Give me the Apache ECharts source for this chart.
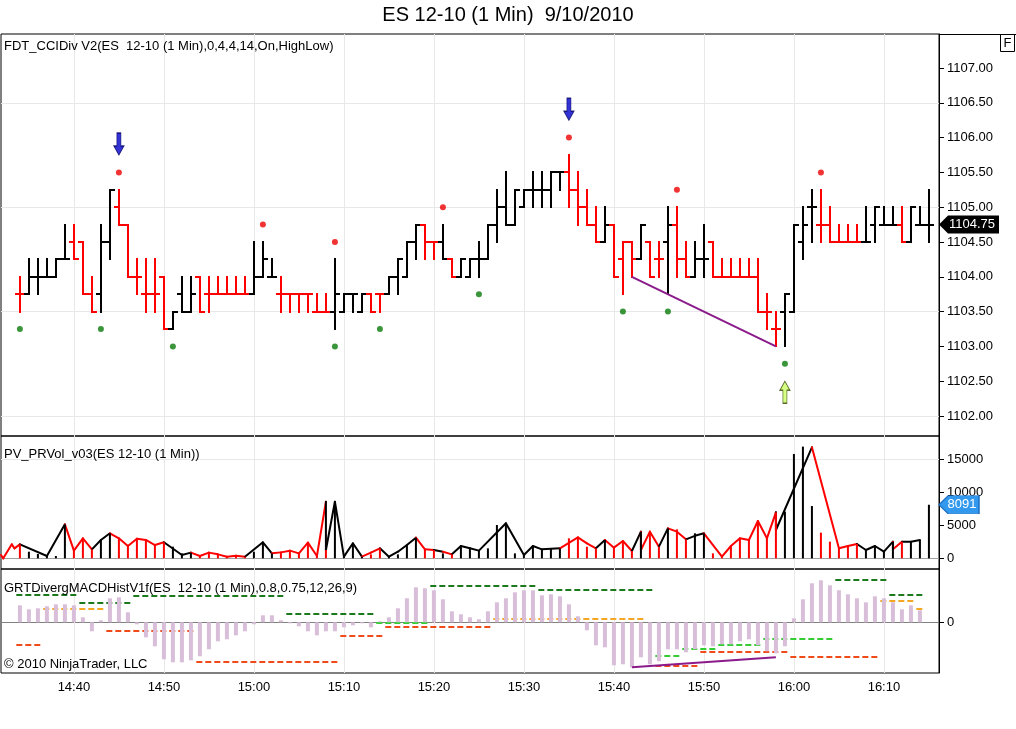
<!DOCTYPE html>
<html>
<head>
<meta charset="utf-8">
<script src="https://cdn.jsdelivr.net/npm/echarts@6/dist/echarts.min.js"></script>
<style>html,body{margin:0;padding:0;background:#fff}#c{width:1016px;height:729px}</style>
</head>
<body>
<div id="c"></div>
<script>
// ---------- DATA ----------
const chartTitle = 'ES 12-10 (1 Min)  9/10/2010';
const panelLabels = [
  'FDT_CCIDiv V2(ES  12-10 (1 Min),0,4,4,14,On,HighLow)',
  'PV_PRVol_v03(ES 12-10 (1 Min))',
  'GRTDivergMACDHistV1f(ES  12-10 (1 Min),0.8,0.75,12,26,9)'
];
const copyright = '\u00A9 2010 NinjaTrader, LLC';
const startMinute = 14 * 60 + 34;               // first bar = 14:34
const timeTickIndex = [6, 16, 26, 36, 46, 56, 66, 76, 86, 96]; // 14:40 ... 16:10
const priceTicks = [1102, 1102.5, 1103, 1103.5, 1104, 1104.5, 1105, 1105.5, 1106, 1106.5, 1107];
const volumeTicks = [0, 5000, 10000, 15000];
const macdTicks = [0];

const barOpen = [
1103.75,1103.75,1104.00,1104.00,1104.00,1104.25,1104.50,1104.50,1103.75,1103.75,
1104.50,1105.00,1104.75,1104.00,1103.75,1103.75,1104.00,1103.25,1103.75,1103.50,
1104.00,1103.75,1103.75,1103.75,1103.75,1103.75,1103.75,1104.00,1104.00,1103.75,
1103.75,1103.75,1103.75,1103.50,1103.50,1103.50,1103.50,1103.75,1103.50,1103.75,
1103.75,1103.75,1104.00,1104.00,1104.50,1104.75,1104.50,1104.50,1104.25,1104.00,
1104.00,1104.25,1104.25,1104.75,1105.00,1104.75,1105.00,1105.25,1105.25,1105.25,
1105.50,1105.50,1105.25,1105.00,1104.75,1104.50,1104.75,1104.25,1104.50,1104.25,
1104.50,1104.25,1104.50,1104.75,1104.25,1104.00,1104.25,1104.50,1104.00,1104.00,
1104.00,1104.00,1104.00,1103.50,1103.25,1103.50,1103.50,1104.50,1105.00,1104.75,
1104.75,1104.50,1104.50,1104.50,1104.50,1104.75,1104.75,1104.75,1104.75,1104.50,
1104.75,1104.75];
const barHigh = [
1104.00,1104.25,1104.25,1104.25,1104.25,1104.75,1104.75,1104.50,1104.00,1104.75,
1105.25,1105.25,1104.75,1104.25,1104.25,1104.25,1104.00,1103.50,1104.00,1104.00,
1104.00,1104.00,1104.00,1104.00,1104.00,1104.00,1104.50,1104.50,1104.25,1104.00,
1103.75,1103.75,1103.75,1103.75,1103.75,1104.25,1103.75,1103.75,1103.75,1103.75,
1103.75,1104.00,1104.25,1104.50,1104.75,1104.75,1104.50,1104.75,1104.25,1104.25,
1104.25,1104.50,1104.75,1105.25,1105.50,1105.25,1105.25,1105.50,1105.50,1105.50,
1105.50,1105.75,1105.50,1105.25,1105.00,1105.00,1104.75,1104.50,1104.50,1104.75,
1104.50,1104.50,1105.00,1105.00,1104.50,1104.50,1104.75,1104.50,1104.25,1104.25,
1104.25,1104.25,1104.25,1103.75,1103.50,1103.75,1104.75,1105.00,1105.25,1105.25,
1105.00,1104.75,1104.75,1104.75,1105.00,1105.00,1105.00,1105.00,1105.00,1105.00,
1105.00,1105.25];
const barLow = [
1103.50,1103.75,1103.75,1104.00,1104.00,1104.25,1104.25,1103.75,1103.50,1103.50,
1104.25,1104.75,1104.00,1103.75,1103.50,1103.50,1103.25,1103.25,1103.50,1103.50,
1103.50,1103.50,1103.75,1103.75,1103.75,1103.75,1103.75,1104.00,1104.00,1103.50,
1103.50,1103.50,1103.50,1103.50,1103.50,1103.25,1103.50,1103.50,1103.50,1103.50,
1103.50,1103.75,1103.75,1104.00,1104.25,1104.25,1104.25,1104.25,1104.00,1104.00,
1104.00,1104.00,1104.25,1104.50,1104.75,1104.75,1105.00,1105.00,1105.00,1105.00,
1105.25,1105.00,1104.75,1104.75,1104.50,1104.50,1104.00,1103.75,1104.00,1104.25,
1104.00,1104.00,1103.75,1104.00,1104.00,1104.00,1104.00,1104.00,1104.00,1104.00,
1104.00,1104.00,1103.50,1103.25,1103.00,1103.00,1103.50,1104.25,1104.50,1104.50,
1104.50,1104.50,1104.50,1104.50,1104.50,1104.50,1104.75,1104.75,1104.50,1104.50,
1104.75,1104.50];
const barClose = [
1103.75,1104.00,1104.00,1104.00,1104.25,1104.25,1104.25,1103.75,1103.50,1104.50,
1105.25,1104.75,1104.00,1104.00,1103.75,1103.75,1103.25,1103.50,1103.50,1103.75,
1103.50,1103.75,1103.75,1103.75,1103.75,1103.75,1104.00,1104.25,1104.00,1103.75,
1103.75,1103.75,1103.75,1103.50,1103.50,1103.75,1103.75,1103.75,1103.75,1103.50,
1103.75,1104.00,1104.25,1104.50,1104.75,1104.50,1104.50,1104.25,1104.00,1104.25,
1104.25,1104.25,1104.75,1105.00,1104.75,1105.25,1105.25,1105.25,1105.25,1105.50,
1105.50,1105.25,1105.00,1104.75,1104.50,1104.75,1104.00,1104.50,1104.25,1104.75,
1104.00,1104.25,1104.75,1104.25,1104.00,1104.25,1104.25,1104.00,1104.00,1104.00,
1104.00,1104.00,1103.50,1103.50,1103.25,1103.75,1104.75,1104.75,1105.00,1104.75,
1104.50,1104.50,1104.50,1104.50,1104.50,1105.00,1104.75,1104.75,1104.50,1105.00,
1104.75,1104.75];
// CCI state that paints the bars: 1 = rising (black), 0 = falling (red)
const barUp = [
0,1,1,1,1,1,0,0,0,1,
1,0,0,0,0,0,0,1,1,1,
0,0,0,0,0,0,1,1,1,0,
0,0,0,0,0,1,1,1,1,0,
0,1,1,1,1,0,0,1,0,1,
1,1,1,1,1,1,1,1,1,1,
1,0,0,0,0,1,0,0,0,1,
0,0,1,0,0,1,1,0,0,0,
0,0,0,0,0,1,1,1,1,0,
0,0,0,0,1,1,1,1,0,1,
1,1];
const swingHighDots = [[11,1105.50],[27,1104.75],[35,1104.50],[47,1105.00],[61,1106.00],[73,1105.25],[89,1105.50]];
const swingLowDots = [[0,1103.25],[9,1103.25],[17,1103.00],[35,1103.00],[40,1103.25],[51,1103.75],[67,1103.50],[72,1103.50],[85,1102.75]];
const sellArrows = [[11,1105.75],[61,1106.25]];
const buyArrows = [[85,1102.50]];
const priceDivLine = [[68,1104.00],[84,1103.00]];

const volume = [
2115,1000,650,300,350,5135,1160,3020,1360,2770,
3780,3020,1860,2970,2770,2010,2420,1760,750,860,
350,860,600,250,400,250,1000,2420,750,900,
1160,750,2370,350,1260,8560,250,2270,250,600,
1510,250,600,2010,3120,1360,1260,750,600,1860,
1510,1160,1510,5035,5290,750,500,1860,1360,1510,
1510,3020,3170,1760,1510,2770,1610,2620,1110,4030,
4030,1760,4530,4380,2870,3780,3780,750,250,1860,
3020,2770,5640,3020,6950,7050,15760,16870,7900,3880,
2520,1510,1860,2170,1260,1860,1000,2520,2520,2520,
2770,8091];
const volumeLine = [
[-2.1,500],[-1.85,0],[-0.9,2115],[-0.6,1510],[0,2115],[3,350],[5,5135],[6,1160],[7,3020],[8,1360],
[9,2770],[10,3780],[11,3020],[12,1860],[13,2970],[14,2770],[15,2010],[16,2420],[18,500],[19,860],
[20,350],[21,860],[22,600],[23,250],[24,400],[25,250],[27,2420],[28,750],[29,900],[30,1160],
[31,750],[32,2370],[33,350],[34,8560],[34,1260],[35,8560],[36,250],[37,2270],[38,250],[39,860],
[40,1510],[41,250],[42,1000],[43,2010],[44,3120],[45,1360],[46,1260],[47,1000],[48,600],[49,1860],
[50,1510],[51,1160],[54,5290],[56,500],[57,1860],[58,1360],[60,1510],[62,3170],[63,2270],[64,1510],
[65,2770],[66,1610],[67,2620],[68,1110],[69,4030],[69,1260],[70,4030],[71,1760],[72,4530],[73,4030],
[74,2870],[75,3400],[76,3780],[78,250],[79,1860],[80,3020],[81,2770],[82,5640],[83,3020],[84,6950],
[84,4280],[88,16770],[91,1510],[92,1860],[93,2170],[94,1260],[95,1860],[96,1000],[97,2520],[97,1360],
[98,2520],[99,2520],[100,2770]];

const macdHist = [
0.17,0.13,0.14,0.16,0.18,0.18,0.17,0.05,-0.09,0.02,
0.24,0.25,0.10,-0.02,-0.15,-0.24,-0.37,-0.40,-0.40,-0.38,
-0.34,-0.27,-0.19,-0.17,-0.13,-0.09,-0.02,0.07,0.07,0.02,
-0.01,-0.04,-0.09,-0.13,-0.09,-0.09,-0.05,-0.03,-0.01,-0.05,
0.01,0.05,0.14,0.24,0.35,0.34,0.32,0.23,0.11,0.08,
0.05,0.03,0.11,0.20,0.24,0.30,0.32,0.32,0.27,0.28,
0.26,0.18,0.06,-0.08,-0.23,-0.25,-0.43,-0.42,-0.45,-0.35,
-0.42,-0.39,-0.27,-0.27,-0.30,-0.27,-0.23,-0.24,-0.22,-0.22,
-0.19,-0.17,-0.23,-0.29,-0.31,-0.24,0.04,0.23,0.39,0.42,
0.37,0.32,0.28,0.24,0.20,0.26,0.24,0.20,0.13,0.17,
0.12,null];
// divergence levels: [first bar, last bar, level]
const levelsDarkGreen = [[0,6,0.27],[7,12,0.19],[13,29,0.26],[30,39,0.08],[46,57,0.36],[58,70,0.32],[91,96,0.42],[97,100,0.27]];
const levelsLightGreen = [[40,45,-0.01],[71,73,-0.34],[74,77,-0.27],[78,82,-0.23],[83,90,-0.17]];
const levelsOrange = [[3,9,0.13],[53,69,0.03],[96,99,0.21],[100,100,0.13]];
const levelsOrangeRed = [[0,2,-0.23],[10,19,-0.09],[20,35,-0.40],[36,40,-0.14],[41,52,-0.05],[71,75,-0.44],[76,85,-0.30],[86,95,-0.35]];
const macdDivLine = [[68,-0.45],[84,-0.35]];

// ---------- CHART ----------
const RED = '#ff0000', BLACK = '#000000';
const FONT = '"Liberation Sans", Arial, sans-serif';
const xMin = -2.1, xMax = 102.12;
const lastClose = barClose[barClose.length - 1];
const lastVolume = volume[volume.length - 1];

function fmtTime(v) {
  const m = startMinute + Math.round(v);
  return Math.floor(m / 60) + ':' + String(m % 60).padStart(2, '0');
}

const grids = [
  {left: 1, width: 938, top: 34, height: 402},
  {left: 1, width: 938, top: 436, height: 133},
  {left: 1, width: 938, top: 569, height: 104}
].map(g => Object.assign(g, {show: true, borderColor: '#000', borderWidth: 1, backgroundColor: 'transparent', containLabel: false, outerBoundsMode: 'none'}));

const xAxes = [0, 1, 2].map(g => ({
  type: 'value', gridIndex: g, min: xMin, max: xMax, position: 'bottom',
  axisLine: {show: false, onZero: false},
  axisTick: {show: false, customValues: timeTickIndex},
  axisLabel: {show: g === 2, customValues: timeTickIndex, formatter: fmtTime, color: '#000', fontSize: 13, fontFamily: FONT, margin: 8},
  splitLine: {show: true, lineStyle: {color: '#e8e8e8', width: 1}}
}));

function yAxis(g, min, max, ticks, fmt, splitColors) {
  return {
    type: 'value', gridIndex: g, position: 'right', min: min, max: max,
    axisLine: {show: true, onZero: false, lineStyle: {color: '#000', width: 1}},
    axisTick: {show: true, length: 5, customValues: ticks, lineStyle: {color: '#000'}},
    axisLabel: {customValues: ticks, formatter: fmt, color: '#000', fontSize: 13, fontFamily: FONT, margin: 8},
    splitLine: {show: true, lineStyle: {color: splitColors, width: 1}}
  };
}
const T = 'rgba(0,0,0,0)';
const yAxes = [
  yAxis(0, 1107 - (436 - 68) / 69.6, 1107 + (68 - 34) / 69.6, priceTicks, v => v.toFixed(2), ['#e8e8e8', T, T]),
  yAxis(1, -(569 - 558.33) / 6.622 * 1000, (558.33 - 436) / 6.622 * 1000, volumeTicks, v => String(v), ['#a0a0a0', T, T, '#e8e8e8']),
  yAxis(2, -(673 - 622.3) / 100, (622.3 - 569) / 100, macdTicks, v => String(v), ['#808080'])
];

function renderOHLC(params, api) {
  const i = api.value(0);
  const o = api.value(1), h = api.value(2), l = api.value(3), c = api.value(4);
  const col = api.value(5) ? BLACK : RED;
  const pH = api.coord([i, h]), pL = api.coord([i, l]);
  const yO = Math.round(api.coord([i, o])[1]), yC = Math.round(api.coord([i, c])[1]);
  const x = Math.round(pH[0]);
  const st = {stroke: col, lineWidth: 2};
  return {type: 'group', children: [
    {type: 'line', shape: {x1: x, y1: Math.round(pH[1]) - 1, x2: x, y2: Math.round(pL[1]) + 1}, style: st},
    {type: 'line', shape: {x1: x - 5, y1: yO, x2: x, y2: yO}, style: st},
    {type: 'line', shape: {x1: x, y1: yC, x2: x + 5, y2: yC}, style: st}
  ]};
}

function renderSegment(params, api) {
  const p0 = api.coord([api.value(0), api.value(1)]);
  const p1 = api.coord([api.value(2), api.value(3)]);
  return {type: 'line', shape: {x1: p0[0], y1: p0[1], x2: p1[0], y2: p1[1]},
    style: {stroke: api.value(4) ? BLACK : RED, lineWidth: 2, lineCap: 'round'}};
}

function levelSeries(levels, color) {
  return {
    type: 'custom', xAxisIndex: 2, yAxisIndex: 2, silent: true,
    data: levels,
    renderItem: (params, api) => {
      const p0 = api.coord([api.value(0) - 0.4, api.value(2)]);
      const p1 = api.coord([api.value(1) + 0.4, api.value(2)]);
      const y = Math.round(p0[1]);
      return {type: 'line', shape: {x1: p0[0], y1: y, x2: p1[0], y2: y},
        style: {stroke: color, lineWidth: 2, lineDash: [6, 3]}};
    }
  };
}

const ohlcData = barOpen.map((o, i) => [i, o, barHigh[i], barLow[i], barClose[i], barUp[i]]);
const volSegments = [];
for (let k = 1; k < volumeLine.length; k++) {
  const [x0, v0] = volumeLine[k - 1];
  const [x1, v1] = volumeLine[k];
  const idx = x1 > x0 ? Math.round(x1) : Math.round(x1) + 1;
  volSegments.push([x0, v0, x1, v1, idx < 0 ? 0 : barUp[idx]]);
}

const option = {
  animation: false,
  backgroundColor: '#fff',
  textStyle: {fontFamily: FONT},
  title: [
    {text: chartTitle, left: 'center', top: 5, padding: 0, textStyle: {fontSize: 20, fontWeight: 'normal', color: '#000', fontFamily: FONT}},
    {text: panelLabels[0], left: 4, top: 40, padding: 0, textStyle: {fontSize: 13, fontWeight: 'normal', color: '#000', fontFamily: FONT}},
    {text: panelLabels[1], left: 4, top: 448, padding: 0, textStyle: {fontSize: 13, fontWeight: 'normal', color: '#000', fontFamily: FONT}},
    {text: panelLabels[2], left: 4, top: 582, padding: 0, textStyle: {fontSize: 13, fontWeight: 'normal', color: '#000', fontFamily: FONT}},
    {text: copyright, left: 4, top: 658, padding: 0, textStyle: {fontSize: 13, fontWeight: 'normal', color: '#000', fontFamily: FONT}}
  ],
  grid: grids,
  xAxis: xAxes,
  yAxis: yAxes,
  graphic: [
    {type: 'line', shape: {x1: 939, y1: 34.5, x2: 1016, y2: 34.5}, style: {stroke: '#000', lineWidth: 1}},
    {type: 'rect', shape: {x: 1000.5, y: 34.5, width: 14, height: 17}, style: {fill: '#fff', stroke: '#000', lineWidth: 1}},
    {type: 'text', style: {text: 'F', x: 1007.5, y: 43.5, align: 'center', verticalAlign: 'middle', font: '13px ' + FONT, fill: '#000'}}
  ],
  series: [
    // price panel
    {type: 'custom', xAxisIndex: 0, yAxisIndex: 0, silent: true, data: ohlcData,
      encode: {x: 0, y: [1, 2, 3, 4]}, renderItem: renderOHLC},
    {type: 'line', xAxisIndex: 0, yAxisIndex: 0, silent: true, data: priceDivLine, symbol: 'none',
      lineStyle: {color: '#8b1a8b', width: 2},
      markPoint: {
        silent: true,
        symbol: 'path://M0,9 L9,0 L60,0 L60,18 L9,18 Z', symbolSize: [60, 18], symbolOffset: [30, 0],
        itemStyle: {color: '#000'},
        label: {show: true, position: 'inside', color: '#fff', fontSize: 13, fontFamily: FONT, offset: [3, 0], formatter: () => lastClose.toFixed(2)},
        data: [{coord: [xMax, lastClose]}]
      }},
    {type: 'scatter', xAxisIndex: 0, yAxisIndex: 0, silent: true, data: swingHighDots, symbolSize: 6, itemStyle: {color: '#ee0000'}},
    {type: 'scatter', xAxisIndex: 0, yAxisIndex: 0, silent: true, data: swingLowDots, symbolSize: 6, itemStyle: {color: '#0a7a0a'}},
    {type: 'scatter', xAxisIndex: 0, yAxisIndex: 0, silent: true, data: sellArrows,
      symbol: 'path://M3,0 L7,0 L7,13 L10,13 L5,22 L0,13 L3,13 Z', symbolSize: [10, 22], symbolOffset: [0, -11],
      itemStyle: {color: '#0000cc', borderColor: '#000066', borderWidth: 1}},
    {type: 'scatter', xAxisIndex: 0, yAxisIndex: 0, silent: true, data: buyArrows,
      symbol: 'path://M5,0 L10,9 L7,9 L7,22 L3,22 L3,9 L0,9 Z', symbolSize: [10, 22], symbolOffset: [0, 11],
      itemStyle: {color: '#ccff66', borderColor: '#334400', borderWidth: 1}},
    // volume panel
    {type: 'bar', xAxisIndex: 1, yAxisIndex: 1, silent: true, barWidth: 2,
      data: volume.map((v, i) => [i, v]),
      itemStyle: {color: p => barUp[p.dataIndex] ? BLACK : RED},
      markPoint: {
        silent: true,
        symbol: 'path://M0,9 L9,0 L40,0 L40,18 L9,18 Z', symbolSize: [40, 18], symbolOffset: [20, 0],
        itemStyle: {color: '#3399ee', borderColor: '#1d6fc0', borderWidth: 1},
        label: {show: true, position: 'inside', color: '#fff', fontSize: 13, fontFamily: FONT, offset: [3, 0], formatter: () => String(lastVolume)},
        data: [{coord: [xMax, lastVolume]}]
      }},
    {type: 'custom', xAxisIndex: 1, yAxisIndex: 1, silent: true, data: volSegments, renderItem: renderSegment},
    // MACD panel
    {type: 'bar', xAxisIndex: 2, yAxisIndex: 2, silent: true, barWidth: 4,
      data: macdHist.map((v, i) => [i, v]), itemStyle: {color: '#d8bed8'}},
    levelSeries(levelsDarkGreen, '#1c7a1c'),
    levelSeries(levelsLightGreen, '#33cc33'),
    levelSeries(levelsOrange, '#f5a623'),
    levelSeries(levelsOrangeRed, '#f04a1a'),
    {type: 'line', xAxisIndex: 2, yAxisIndex: 2, silent: true, data: macdDivLine, symbol: 'none',
      lineStyle: {color: '#8b1a8b', width: 2}}
  ]
};

const chart = echarts.init(document.getElementById('c'), null, {renderer: 'canvas'});
chart.setOption(option);
</script>
</body>
</html>
